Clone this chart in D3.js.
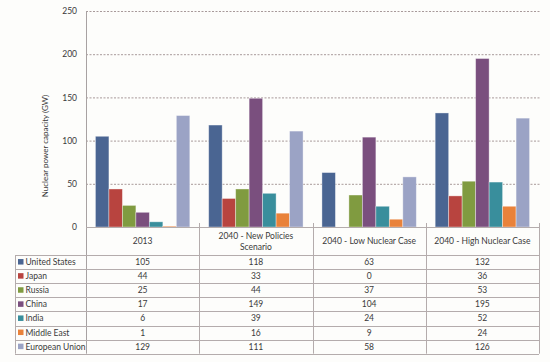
<!DOCTYPE html>
<html><head><meta charset="utf-8">
<script src="https://cdn.jsdelivr.net/npm/d3@7"></script>
<style>
html,body{margin:0;padding:0;background:#fdfdfb;}
svg{display:block;}
text{font-family:Lato,"Open Sans",sans-serif;fill:#3a3a3a;}
</style></head><body>
<svg id="c" width="550" height="362"></svg>
<script>
const categories = ["2013", "2040 - New Policies Scenario", "2040 - Low Nuclear Case", "2040 - High Nuclear Case"];
const categoryLines = [["2013"], ["2040 - New Policies", "Scenario"], ["2040 - Low Nuclear Case"], ["2040 - High Nuclear Case"]];
const seriesNames = ["United States", "Japan", "Russia", "China", "India", "Middle East", "European Union"];
const unitedStates = [105, 118, 63, 132];
const japan = [44, 33, 0, 36];
const russia = [25, 44, 37, 53];
const china = [17, 149, 104, 195];
const india = [6, 39, 24, 52];
const middleEast = [1, 16, 9, 24];
const europeanUnion = [129, 111, 58, 126];
const yTicks = [0, 50, 100, 150, 200, 250];
const colors = ["#4a6592", "#b8443f", "#809b40", "#7a4f7e", "#398e9c", "#e9823a", "#9ba3c5"];

const series = [unitedStates, japan, russia, china, india, middleEast, europeanUnion];

const svg = d3.select("#c");
const L = 86, R = 539, T = 11, B = 227;
const rowTop = 255, rowH = 14.1, legendLeft = 15;

const x0 = d3.scaleBand().domain(categories).range([L, R]).paddingInner(0).paddingOuter(0);
const x1 = d3.scaleBand().domain(seriesNames).range([0, x0.bandwidth()]).paddingOuter(0.7).paddingInner(0);
const y = d3.scaleLinear().domain([0, 250]).range([B, T]);

// gridlines
svg.append("g").selectAll("line").data(yTicks.filter(d => d > 0)).join("line")
  .attr("x1", L).attr("x2", R + 1).attr("y1", d => y(d) + 0.5).attr("y2", d => y(d) + 0.5)
  .attr("stroke", "#a89a9a").attr("stroke-width", 1).attr("stroke-dasharray", "2,1.5");

// y axis
const yAxis = d3.axisLeft(y).tickValues(yTicks).tickSize(0).tickPadding(9);
const gy = svg.append("g").attr("transform", `translate(${L},0)`).call(yAxis);
gy.select(".domain").remove();
gy.selectAll("text").attr("font-size", 8.5).style("fill", "#3a3a3a").style("font-family", "Lato,sans-serif");

// bars
const g = svg.append("g");
categories.forEach((c, ci) => {
  seriesNames.forEach((s, si) => {
    const v = series[si][ci];
    g.append("rect")
      .attr("x", x0(c) + x1(s))
      .attr("y", y(v))
      .attr("width", x1.bandwidth())
      .attr("height", Math.max(0, y(0) - y(v)))
      .attr("fill", colors[si])
      .attr("stroke", "rgba(255,255,255,0.45)").attr("stroke-width", 0.8);
  });
});

// axis line left
svg.append("line").attr("x1", L + 0.5).attr("x2", L + 0.5).attr("y1", T).attr("y2", rowTop + rowH * 7)
  .attr("stroke", "#a8a2a2");

// table
const lineCol = "#b4acac";
const tbl = svg.append("g");
// horizontal lines
tbl.append("line").attr("x1", L).attr("x2", R).attr("y1", B + 0.5).attr("y2", B + 0.5).attr("stroke", lineCol);
for (let i = 0; i <= 7; i++) {
  const yy = Math.round(rowTop + rowH * i) + 0.5;
  tbl.append("line").attr("x1", legendLeft).attr("x2", R).attr("y1", yy).attr("y2", yy).attr("stroke", lineCol);
}
// vertical lines
tbl.append("line").attr("x1", legendLeft + 0.5).attr("x2", legendLeft + 0.5).attr("y1", rowTop).attr("y2", rowTop + rowH * 7).attr("stroke", lineCol);
categories.forEach((c, ci) => {
  const xx = Math.round(x0(c) + x0.bandwidth()) + 0.5;
  tbl.append("line").attr("x1", xx).attr("x2", xx).attr("y1", ci < 3 ? B - 4 : B - 4).attr("y2", rowTop + rowH * 7).attr("stroke", lineCol);
});
// tick marks at category boundaries (drawn above)
// header text
categories.forEach((c, ci) => {
  const lines = categoryLines[ci];
  const cx = x0(c) + x0.bandwidth() / 2;
  const cy = (B + rowTop) / 2;
  lines.forEach((ln, li) => {
    tbl.append("text").attr("x", cx).attr("y", cy + (li - (lines.length - 1) / 2) * 11 + 3)
      .attr("text-anchor", "middle").attr("font-size", 8.5).text(ln);
  });
});
// rows
seriesNames.forEach((s, si) => {
  const ry = rowTop + rowH * si;
  tbl.append("rect").attr("x", 18).attr("y", ry + rowH / 2 - 3).attr("width", 5.5).attr("height", 5.5).attr("fill", colors[si]);
  tbl.append("text").attr("x", 25.5).attr("y", ry + rowH / 2 + 3).attr("font-size", 8.5).text(s);
  categories.forEach((c, ci) => {
    tbl.append("text").attr("x", x0(c) + x0.bandwidth() / 2).attr("y", ry + rowH / 2 + 3)
      .attr("text-anchor", "middle").attr("font-size", 8.5).text(series[si][ci]);
  });
});

// y title
svg.append("text").attr("transform", `translate(48,146) rotate(-90)`).attr("text-anchor", "middle")
  .attr("font-size", 8).text("Nuclear power capacity (GW)");
</script></body></html>
